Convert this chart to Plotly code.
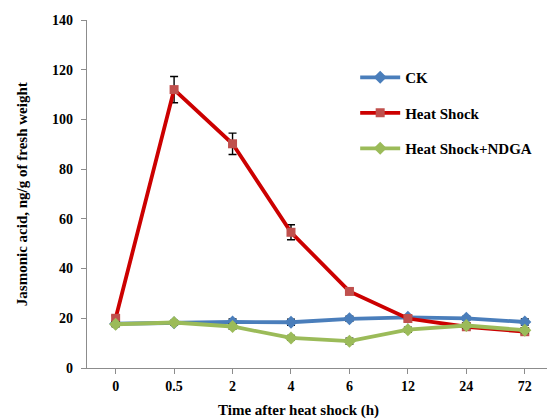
import plotly.graph_objects as go

categories = ["0", "0.5", "2", "4", "6", "12", "24", "72"]
ck = [17.8, 18.2, 18.5, 18.4, 19.8, 20.4, 20.0, 18.5]
ck_err = [1.0, 0.8, 1.2, 1.2, 1.0, 0.8, 0.8, 1.2]
hs = [20.0, 112.0, 90.2, 54.6, 30.8, 19.9, 16.6, 14.6]
hs_err = [1.0, 5.3, 4.3, 3.0, 1.2, 1.0, 1.0, 1.0]
ndga = [17.6, 18.3, 16.7, 12.1, 10.8, 15.4, 17.1, 15.2]
ndga_err = [1.0, 0.8, 1.0, 1.0, 1.2, 1.0, 1.0, 1.0]

FONT = "Liberation Serif"
xs = list(range(len(categories)))

fig = go.Figure()

def add(name, y, err, line_color, marker_color, symbol, size, group):
    fig.add_trace(go.Scatter(
        x=xs, y=y, name=name, mode="lines+markers",
        line=dict(color=line_color, width=3.8),
        marker=dict(color=marker_color, symbol=symbol, size=size, line=dict(width=0)),
        error_y=dict(type="data", array=err, visible=True, color="black", thickness=1.4, width=4),
        legendgroup=group,
    ))

add("CK", ck, ck_err, "#4a7ebb", "#4a7ebb", "diamond", 10, "a")
add("Heat Shock", hs, hs_err, "#cc0000", "#c0504d", "square", 9, "b")
add("Heat Shock+NDGA", ndga, ndga_err, "#9bbb59", "#9bbb59", "diamond", 10, "c")

axis_common = dict(
    showline=True, linecolor="#8c8c8c", linewidth=1.3,
    ticks="outside", tickcolor="#8c8c8c", ticklen=5, tickwidth=1.3,
    showgrid=False, zeroline=False, automargin=False,
    tickfont=dict(family=FONT, size=14, color="black", weight="bold"),
)

fig.update_layout(
    width=547, height=419,
    margin=dict(l=87, r=0, t=20, b=51),
    paper_bgcolor="white", plot_bgcolor="white",
    showlegend=True,
    legend=dict(
        x=0.583, y=0.882, xanchor="left", yanchor="top",
        font=dict(family=FONT, size=15, color="black", weight="bold"),
        traceorder="grouped", tracegroupgap=13,
        bgcolor="rgba(0,0,0,0)", itemwidth=40,
    ),
    xaxis=dict(range=[-0.49, 7.38], tickvals=xs, ticktext=categories, **axis_common),
    yaxis=dict(range=[0, 140], tickvals=list(range(0, 141, 20)), ticklabelstandoff=5, **axis_common),
    annotations=[
        dict(text="Time after heat shock (h)", xref="paper", yref="paper",
             x=0.459, y=-0.121, xanchor="center", yanchor="middle", showarrow=False,
             font=dict(family=FONT, size=15, color="black", weight="bold")),
        dict(text="Jasmonic acid, ng/g of fresh weight", xref="paper", yref="paper",
             x=-0.141, y=0.5, xanchor="center", yanchor="middle", showarrow=False,
             textangle=-90,
             font=dict(family=FONT, size=15, color="black", weight="bold")),
    ],
)

fig.write_html("out.html", config={"displayModeBar": False},
               post_script="document.body.style.margin='0';document.body.style.overflow='hidden';")
